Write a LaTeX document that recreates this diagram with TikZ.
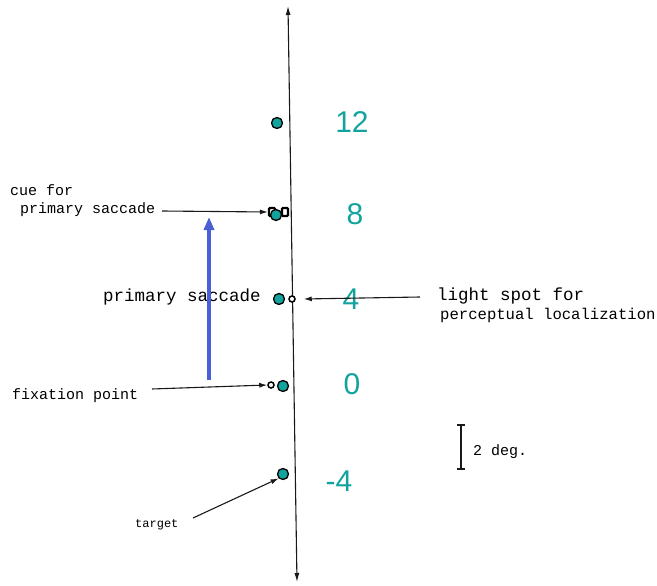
\documentclass[tikz,border=0pt]{standalone}
\usepackage{fontspec}
\setmainfont{Liberation Sans}
\newfontfamily\typewr{Liberation Mono}
\usetikzlibrary{arrows.meta}
\definecolor{teal1}{HTML}{12A39E}
\definecolor{sacblue}{HTML}{4A5FD4}
\tikzset{
  lbl/.style={font=\typewr\fontsize{15}{17}\selectfont, inner sep=0pt, anchor=west, text=black},
  num/.style={font=\fontsize{30}{32}\selectfont, text=teal1, inner sep=0pt},
  dot/.style={circle, fill=teal1, draw=black, line width=1.3pt, minimum size=11pt, inner sep=0pt},
  omark/.style={circle, draw=black, line width=1.5pt, minimum size=6pt, inner sep=0pt, fill=white},
  bmark/.style={rectangle, rounded corners=1pt, draw=black, line width=2.2pt, minimum width=6pt, minimum height=8pt, inner sep=0pt, fill=white},
  ptr/.style={-{Latex[length=8pt,width=5pt]}, line width=1.1pt, black!90},
  axis/.style={{Latex[length=9pt,width=5pt]}-{Latex[length=9pt,width=5pt]}, line width=1.1pt, black!90}
}
\begin{document}
\begin{tikzpicture}[x=1pt,y=-1pt]
\useasboundingbox (0,0) rectangle (657,586);
% axis
\coordinate (atop) at (288,6);
\coordinate (abot) at (297,582);
\draw[axis] (atop) -- (abot);
% small open markers
\node[bmark] (m8a) at (272,212) {};
\node[bmark] (m8b) at (285,212) {};
\node[omark] (m4) at (292,299) {};
\node[omark] (m0) at (271,385) {};
% teal dots
\node[dot] (d12) at (277,123) {};
\node[dot] (d8) at (276,215) {};
\node[dot] (d4) at (279,299) {};
\node[dot] (d0) at (283,386) {};
\node[dot] (dm4) at (283,474) {};
% numbers
\node[num] (n12) at (352,122) {12};
\node[num] (n8) at (355,214) {8};
\node[num] (n4) at (351,299) {4};
\node[num] (n0) at (352,384) {0};
\node[num] (nm4) at (339,481) {-4};
% labels
\node[lbl] (cue1) at (10,190) {cue for};
\node[lbl] (cue2) at (20,210) {primary saccade};
\node[lbl, font=\typewr\fontsize{17.5}{19}\selectfont] (ps) at (103,297) {primary saccade};
\node[lbl, font=\typewr\fontsize{17.5}{19}\selectfont] (ls1) at (437,296) {light spot for};
\node[lbl, font=\typewr\fontsize{15.6}{17}\selectfont] (ls2) at (440,315) {perceptual localization};
\node[lbl] (fix) at (12,396) {fixation point};
\node[lbl, font=\typewr\fontsize{12}{14}\selectfont] (tgt) at (135,525) {target};
\node[lbl] (deg) at (473,452) {2 deg.};
% pointers
\coordinate (cueS) at (162,211);
\draw[ptr] (cueS) -- (m8a.west);
\coordinate (lsS) at (420,297);
\draw[ptr] (lsS) -- ([xshift=8pt]m4.east);
\coordinate (fixS) at (152,389);
\draw[ptr] (fixS) -- (m0.west);
\coordinate (tgtS) at (193,518);
\draw[ptr] (tgtS) -- (dm4.south west);
% saccade arrow
\coordinate (sacS) at (209,380);
\coordinate (sacE) at (209,217);
\draw[-{Triangle[length=13pt,width=10pt]}, line width=3.5pt, sacblue] (sacS) -- (sacE);
% scale bar
\coordinate (barT) at (461,425);
\coordinate (barB) at (461,469);
\draw[line width=1.3pt, black!90] (barT) -- (barB);
\draw[line width=1.3pt, black!90] ([xshift=-4pt]barT) -- ([xshift=4pt]barT);
\draw[line width=1.3pt, black!90] ([xshift=-4pt]barB) -- ([xshift=4pt]barB);
\end{tikzpicture}
\end{document}
